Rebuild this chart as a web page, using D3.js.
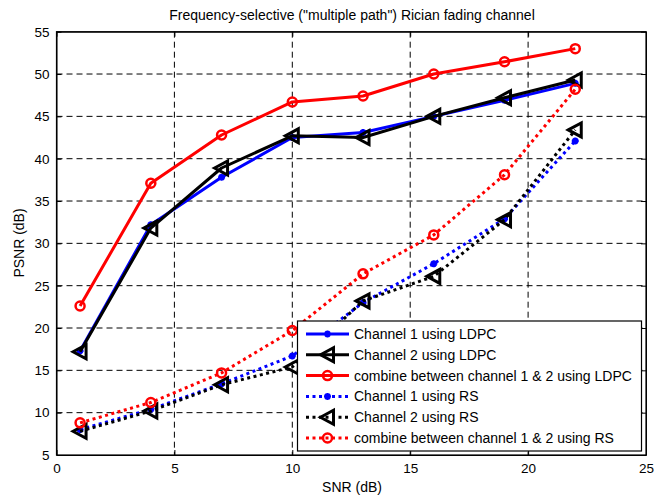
<!DOCTYPE html>
<html><head><meta charset="utf-8">
<script src="https://cdn.jsdelivr.net/npm/d3@7"></script>
<style>body{margin:0;background:#fff}svg{display:block}text{font-family:"Liberation Sans",Arial,sans-serif}</style>
</head><body><svg id="c" width="654" height="497"></svg>
<script>
const snr = [1,4,7,10,13,16,19,22];
const ch1LDPC = [17.3,32.2,37.8,42.5,43.1,45.0,46.9,48.9];
const ch2LDPC = [17.2,31.8,38.9,42.7,42.5,45.0,47.2,49.3];
const combLDPC = [22.6,37.1,42.8,46.7,47.4,50.0,51.45,53.0];
const ch1RS = [8.0,10.4,13.4,16.7,23.0,27.6,32.9,42.1];
const ch2RS = [7.8,10.2,13.3,15.4,23.2,26.1,32.8,43.4];
const combRS = [8.8,11.2,14.7,19.7,26.4,31.0,38.1,48.2];
const xTicks = [0,5,10,15,20,25];
const yTicks = [5,10,15,20,25,30,35,40,45,50,55];
const labels = ["Channel 1 using LDPC","Channel 2 using LDPC","combine between channel 1 & 2 using LDPC","Channel 1 using RS","Channel 2 using RS","combine between channel 1 & 2 using RS"];

const series = [
 {v:ch1LDPC,color:"#0000ff",dot:false,m:"star"},
 {v:ch2LDPC,color:"#000000",dot:false,m:"tri"},
 {v:combLDPC,color:"#ff0000",dot:false,m:"circ"},
 {v:ch1RS,color:"#0000ff",dot:true,m:"star"},
 {v:ch2RS,color:"#000000",dot:true,m:"tri"},
 {v:combRS,color:"#ff0000",dot:true,m:"circ"}
];

const L=56.5,R=646,T=31.7,B=455;
const x=d3.scaleLinear().domain([0,25]).range([L,R]);
const y=d3.scaleLinear().domain([5,55]).range([B,T]);
const svg=d3.select("#c");

// grid
const g=svg.append("g");
xTicks.slice(1,-1).forEach(t=>g.append("line").attr("x1",x(t)).attr("x2",x(t)).attr("y1",T).attr("y2",B)
  .attr("stroke","#000").attr("stroke-width",1).attr("stroke-dasharray","6,4"));
yTicks.slice(1,-1).forEach(t=>g.append("line").attr("y1",y(t)).attr("y2",y(t)).attr("x1",L).attr("x2",R)
  .attr("stroke","#000").attr("stroke-width",1).attr("stroke-dasharray","6,4"));

// axes
svg.append("g").attr("transform",`translate(0,${B})`).call(d3.axisBottom(x).tickValues(xTicks).tickSize(-5).tickPadding(8).tickSizeOuter(0));
svg.append("g").attr("transform",`translate(${L},0)`).call(d3.axisLeft(y).tickValues(yTicks).tickSize(-5).tickPadding(7).tickSizeOuter(0));
svg.append("g").attr("transform",`translate(0,${T})`).call(d3.axisTop(x).tickValues(xTicks).tickSize(-5).tickFormat("").tickSizeOuter(0));
svg.append("g").attr("transform",`translate(${R},0)`).call(d3.axisRight(y).tickValues(yTicks).tickSize(-5).tickFormat("").tickSizeOuter(0));
svg.selectAll(".domain").attr("stroke","#000");
svg.selectAll(".tick line").attr("stroke","#000");
svg.selectAll(".tick text").attr("font-size",13.5).attr("fill","#000").attr("font-family","Liberation Sans, Arial, sans-serif");
svg.append("rect").attr("x",L).attr("y",T).attr("width",R-L).attr("height",B-T).attr("fill","none").attr("stroke","#000").attr("stroke-width",1.2);

function marker(sel,type,cx,cy,color){
  if(type==="circ"){
    sel.append("circle").attr("cx",cx).attr("cy",cy).attr("r",4.5).attr("fill","none").attr("stroke",color).attr("stroke-width",2.5);
  } else if(type==="tri"){
    sel.append("path").attr("d",`M${cx-7},${cy} L${cx+6},${cy-7} L${cx+6},${cy+7} Z`).attr("fill","none").attr("stroke",color).attr("stroke-width",3).attr("stroke-linejoin","miter");
  } else {
    const s=3.5;
    sel.append("path").attr("d",`M${cx-s},${cy}L${cx+s},${cy}M${cx},${cy-s}L${cx},${cy+s}M${cx-s*0.7},${cy-s*0.7}L${cx+s*0.7},${cy+s*0.7}M${cx-s*0.7},${cy+s*0.7}L${cx+s*0.7},${cy-s*0.7}`)
      .attr("stroke",color).attr("stroke-width",2.2);
  }
}

const line=d3.line().x((d,i)=>x(snr[i])).y(d=>y(d));
const plot=svg.append("g");
series.forEach(s=>{
  plot.append("path").datum(s.v).attr("d",line).attr("fill","none").attr("stroke",s.color).attr("stroke-width",3)
    .attr("stroke-dasharray",s.dot?"3,3.5":null).attr("stroke-linejoin","round");
  s.v.forEach((v,i)=>marker(plot,s.m,x(snr[i]),y(v),s.color));
});

// legend
const lg=svg.append("g");
lg.append("rect").attr("x",297.5).attr("y",321).attr("width",344).attr("height",130).attr("fill","#fff").attr("stroke","#000").attr("stroke-width",1.2);
series.forEach((s,i)=>{
  const ly=334+i*20.8;
  lg.append("line").attr("x1",306).attr("x2",349).attr("y1",ly).attr("y2",ly).attr("stroke",s.color).attr("stroke-width",3)
    .attr("stroke-dasharray",s.dot?"3,3.5":null);
  marker(lg,s.m,327.5,ly,s.color);
  lg.append("text").attr("x",354).attr("y",ly+5).attr("font-size",14).attr("fill","#000").text(labels[i]);
});

// titles
svg.append("text").attr("x",352).attr("y",20).attr("text-anchor","middle").attr("font-size",14).text('Frequency-selective ("multiple path") Rician fading channel');
svg.append("text").attr("x",352).attr("y",492).attr("text-anchor","middle").attr("font-size",14).text("SNR (dB)");
svg.append("text").attr("transform","translate(24,243) rotate(-90)").attr("text-anchor","middle").attr("font-size",14).text("PSNR (dB)");
</script></body></html>
